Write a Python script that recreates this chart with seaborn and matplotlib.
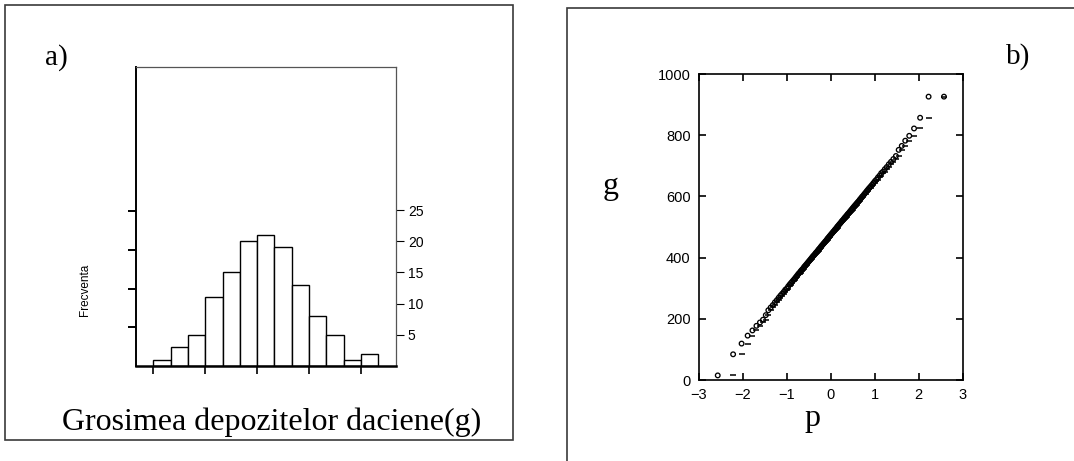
import numpy as np
import pandas as pd
import matplotlib
matplotlib.use("Agg")
import matplotlib.pyplot as plt
from matplotlib.patches import Rectangle
import seaborn as sns
from statistics import NormalDist

# ---------------- data ----------------
# sorted thickness values g (read from the normal-probability plot / histogram)
g_values = [
    15, 84, 119, 145, 162, 177, 188, 197, 212, 228,
    237, 245, 254, 261, 269, 276, 282, 288, 295, 299,
    306, 312, 317, 322, 327, 332, 337, 342, 347, 351,
    356, 360, 364, 369, 373, 377, 381, 385, 389, 393,
    397, 401, 405, 408, 412, 416, 419, 423, 427, 430,
    434, 438, 441, 445, 448, 452, 455, 459, 463, 466,
    470, 473, 477, 480, 484, 487, 491, 494, 498, 502,
    505, 509, 512, 516, 520, 523, 527, 531, 534, 538,
    542, 545, 549, 553, 557, 561, 565, 569, 573, 577,
    581, 585, 590, 594, 599, 603, 608, 613, 618, 623,
    628, 633, 638, 644, 650, 655, 662, 668, 676, 681,
    689, 696, 705, 713, 722, 732, 752, 765, 782, 798,
    822, 857, 926, 926,
]
hist_count_ticks = [5, 10, 15, 20, 25]
hist_prop_ticks = [0.05, 0.10, 0.15, 0.20]
hist_x_ticks = [0, 225, 450, 675, 900]
qq_x_ticks = [-3, -2, -1, 0, 1, 2, 3]
qq_y_ticks = [0, 200, 400, 600, 800, 1000]

panel_a_label = "a)"
panel_b_label = "b)"
hist_xlabel = "Grosimea depozitelor daciene(g)"
hist_ylabel = "Frecventa"
qq_xlabel = "p"
qq_ylabel = "g"

BIN_WIDTH = 75
BIN_RANGE = (0, 975)

# ---------------- derived ----------------
g = np.array(g_values, dtype=float)
n = len(g)
nd = NormalDist()
p = np.array([nd.inv_cdf((i - 0.375) / (n + 0.25)) for i in range(1, n + 1)])

# ---------------- figure ----------------
sns.set_theme(style="ticks")
plt.rcParams["font.family"] = ["Liberation Sans", "DejaVu Sans"]
W, H = 1074, 461
fig = plt.figure(figsize=(W / 100, H / 100), dpi=100)
fig.patch.set_facecolor("white")


def fx(px):
    return px / W


def fy(py):
    return 1 - py / H


SERIF = ["Liberation Serif", "DejaVu Serif"]

# panel frames
fig.add_artist(Rectangle((fx(5), fy(440)), fx(513) - fx(5), fy(5) - fy(440),
                         transform=fig.transFigure, fill=False,
                         edgecolor="#3a3a3a", lw=1.2))
fig.add_artist(Rectangle((fx(566.5), fy(475)), fx(1090) - fx(566.5), fy(8.3) - fy(475),
                         transform=fig.transFigure, fill=False,
                         edgecolor="#3a3a3a", lw=1.2, clip_on=False))

# ---------------- a) histogram ----------------
ax = fig.add_axes([fx(136), fy(366), (396 - 136) / W, (366 - 67) / H])
axl = ax.twinx()  # proportion axis (left side, unlabeled ticks)

sns.histplot(x=g, binwidth=BIN_WIDTH, binrange=BIN_RANGE, stat="count",
             color="white", edgecolor="black", linewidth=1.0, alpha=1.0, ax=ax)
ymax = (366 - 67) / 6.24
ax.set_ylim(0, ymax)
ax.set_xlim(-75, 1052)
ax.set_xlabel("")
ax.set_ylabel("")
ax.yaxis.tick_right()
ax.yaxis.set_label_position("right")
ax.set_yticks(hist_count_ticks)
ax.set_yticklabels([str(t) for t in hist_count_ticks])
ax.set_xticks(hist_x_ticks)
ax.set_xticklabels([])
ax.tick_params(axis="y", direction="out", length=6, width=0.8, pad=2.5,
               labelsize=10, colors="black", right=True, left=False,
               labelright=True, labelleft=False)
ax.tick_params(axis="x", direction="out", length=6, width=1.2, colors="black")
for side in ["top", "right"]:
    ax.spines[side].set_color("#555555")
    ax.spines[side].set_linewidth(0.9)
ax.spines["bottom"].set_color("black")
ax.spines["bottom"].set_linewidth(1.8)
ax.spines["left"].set_color("black")
ax.spines["left"].set_linewidth(1.4)

axl.set_ylim(0, ymax / n)
axl.yaxis.tick_left()
axl.set_yticks(hist_prop_ticks)
axl.set_yticklabels([])
axl.tick_params(axis="y", direction="out", length=6, width=1.4, colors="black",
                left=True, right=False, labelleft=False, labelright=False)
for s in axl.spines.values():
    s.set_visible(False)

fig.text(fx(85), fy(290), hist_ylabel, rotation=90, ha="center", va="center",
         fontsize=8.5, color="black")
fig.text(fx(44.5), fy(65), panel_a_label, fontsize=21, family=SERIF,
         ha="left", va="baseline", color="black")
fig.text(fx(62.5), fy(430), hist_xlabel, fontsize=23, family=SERIF,
         ha="left", va="baseline", color="black")

# ---------------- b) normal probability plot ----------------
bx = fig.add_axes([fx(699), fy(380), (962.7 - 699) / W, (380 - 74) / H])
sns.scatterplot(x=p[1:], y=g[:-1], marker="_", s=14, color="black",
                linewidth=1.1, ax=bx, legend=False, zorder=2)
sns.scatterplot(x=p, y=g, marker="o", s=11, facecolor="none", edgecolor="black",
                linewidth=0.95, ax=bx, legend=False, zorder=3)
bx.set_xlim(-3, 3)
bx.set_ylim(0, 1000)
bx.set_xticks(qq_x_ticks)
bx.set_yticks(qq_y_ticks)
bx.set_xticklabels([str(t).replace("-", "\u2212") for t in qq_x_ticks])
bx.set_yticklabels([str(t) for t in qq_y_ticks])
bx.tick_params(direction="in", length=5, width=1.2, top=True, right=True,
               labelsize=10.5, pad=6, colors="black")
for s in bx.spines.values():
    s.set_color("black")
    s.set_linewidth(1.2)
bx.set_xlabel("")
bx.set_ylabel("")

fig.text(fx(603), fy(194.4), qq_ylabel, fontsize=23, family=SERIF,
         ha="left", va="baseline", color="black")
fig.text(fx(804), fy(426), qq_xlabel, fontsize=23, family=SERIF,
         ha="left", va="baseline", color="black")
fig.text(fx(1005.8), fy(64), panel_b_label, fontsize=21, family=SERIF,
         ha="left", va="baseline", color="black")

fig.savefig("out.png", dpi=100, facecolor="white")
